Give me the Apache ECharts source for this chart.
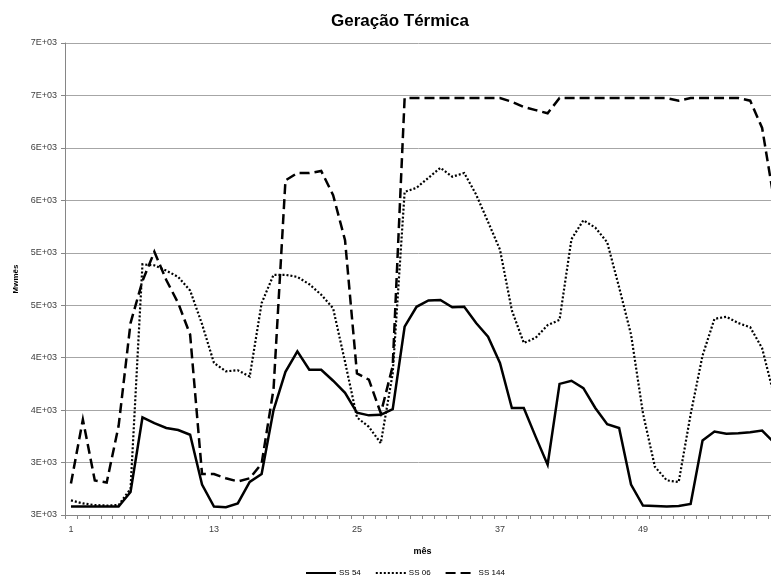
<!DOCTYPE html>
<html>
<head>
<meta charset="utf-8">
<script src="https://cdn.jsdelivr.net/npm/echarts@6/dist/echarts.min.js"></script>
<style>
  html, body { margin: 0; padding: 0; background: #ffffff; }
  #chart { width: 771px; height: 586px; }
</style>
</head>
<body>
<div id="chart"></div>
<script>
// Months of the study horizon
const months = ['1','2','3','4','5','6','7','8','9','10','11','12',
  '13','14','15','16','17','18','19','20','21','22','23','24',
  '25','26','27','28','29','30','31','32','33','34','35','36',
  '37','38','39','40','41','42','43','44','45','46','47','48',
  '49','50','51','52','53','54','55','56','57','58','59','60'];

// Thermal generation per scenario (Mwmês)
const ss54 = [2580, 2580, 2580, 2580, 2580, 2720, 3430, 3375, 3330, 3310, 3265, 2790,
  2580, 2575, 2610, 2815, 2890, 3500, 3865, 4060, 3885, 3885, 3780, 3665,
  3475, 3450, 3455, 3510, 4295, 4485, 4545, 4550, 4480, 4485, 4330, 4200,
  3950, 3520, 3520, 3245, 2980, 3750, 3780, 3710, 3520, 3365, 3330, 2790,
  2590, 2585, 2580, 2585, 2605, 3210, 3295, 3275, 3280, 3290, 3305, 3190];

const ss06 = [2640, 2610, 2595, 2590, 2595, 2750, 4890, 4880, 4830, 4770, 4640, 4320,
  3950, 3870, 3880, 3820, 4520, 4790, 4790, 4770, 4700, 4600, 4470, 3960,
  3430, 3340, 3185, 3850, 5580, 5620, 5715, 5810, 5725, 5760, 5555, 5295,
  5030, 4450, 4140, 4190, 4310, 4360, 5130, 5310, 5240, 5100, 4670, 4220,
  3470, 2960, 2830, 2815, 3460, 4020, 4370, 4390, 4330, 4290, 4090, 3640];

const ss144 = [2800, 3410, 2830, 2810, 3350, 4330, 4730, 5010, 4740, 4520, 4220, 2890,
  2890, 2850, 2820, 2850, 2990, 3700, 5690, 5760, 5760, 5780, 5550, 5120,
  3850, 3790, 3470, 3920, 6475, 6475, 6475, 6475, 6475, 6475, 6475, 6475,
  6475, 6440, 6390, 6360, 6330, 6475, 6475, 6475, 6475, 6475, 6475, 6475,
  6475, 6475, 6475, 6450, 6475, 6475, 6475, 6475, 6475, 6450, 6190, 5500];

// Value axis: 2500 .. 7000 in steps of 500, labelled in rounded scientific notation
const yMin = 2500;
const yMax = 7000;
const yStep = 500;
const yTickLabels = ['3E+03', '3E+03', '4E+03', '4E+03', '5E+03',
  '5E+03', '6E+03', '6E+03', '7E+03', '7E+03'];

const seriesNames = ['SS 54', 'SS 06', 'SS 144'];

const FONT = '"Liberation Sans", Arial, sans-serif';
const chart = echarts.init(document.getElementById('chart'), null, { renderer: 'canvas' });

function lineSeries(name, data, type, width) {
  return {
    name: name,
    type: 'line',
    data: data,
    symbol: 'none',
    showSymbol: false,
    smooth: false,
    animation: false,
    lineStyle: { color: '#000000', width: width, type: type, cap: 'butt', join: 'miter' },
    itemStyle: { color: '#000000' },
    emphasis: { disabled: true }
  };
}

chart.setOption({
  animation: false,
  backgroundColor: '#ffffff',
  title: {
    text: 'Geração Térmica',
    left: 395,
    top: 8,
    textAlign: 'center',
    textStyle: { fontFamily: FONT, fontSize: 17, fontWeight: 'bold', color: '#000000' }
  },
  legend: {
    bottom: 4,
    left: 300,
    itemWidth: 30,
    itemHeight: 8,
    itemGap: 14,
    data: seriesNames,
    itemStyle: { color: 'rgba(0,0,0,0)', borderWidth: 0, opacity: 0 },
    textStyle: { fontFamily: FONT, fontSize: 8, color: '#000000', padding: [0, 0, 0, -2] }
  },
  // the plot runs a little past the right edge of the canvas, so the last month is cut
  grid: { left: 65, top: 43, width: 715, height: 472, containLabel: false, outerBoundsMode: 'none' },
  xAxis: {
    type: 'category',
    data: months,
    boundaryGap: true,
    name: 'mês',
    nameLocation: 'middle',
    nameGap: 32,
    nameTextStyle: { fontFamily: FONT, fontSize: 9, fontWeight: 'bold', color: '#000000' },
    axisLine: { show: true, lineStyle: { color: '#868686', width: 1 } },
    axisTick: { show: true, interval: 0, length: 4, lineStyle: { color: '#868686' } },
    axisLabel: { interval: 11, margin: 10, fontFamily: FONT, fontSize: 9, color: '#404040' },
    splitLine: { show: false }
  },
  yAxis: {
    type: 'value',
    min: yMin,
    max: yMax,
    interval: yStep,
    name: 'Mwmês',
    nameLocation: 'middle',
    nameGap: 44,
    nameRotate: 90,
    nameTextStyle: { fontFamily: FONT, fontSize: 8, fontWeight: 'bold', color: '#000000' },
    axisLine: { show: true, lineStyle: { color: '#868686', width: 1 } },
    axisTick: { show: true, length: 4, lineStyle: { color: '#868686' } },
    axisLabel: {
      margin: 8,
      fontFamily: FONT,
      fontSize: 9,
      color: '#404040',
      formatter: function (v) {
        const i = Math.round((v - yMin) / yStep);
        return yTickLabels[i] !== undefined ? yTickLabels[i] : '';
      }
    },
    splitLine: { show: true, lineStyle: { color: '#a6a6a6', width: 1 } }
  },
  series: [
    lineSeries(seriesNames[0], ss54, 'solid', 2.5),
    lineSeries(seriesNames[1], ss06, [2, 2], 2.2),
    lineSeries(seriesNames[2], ss144, [10, 5], 2.5)
  ]
});
</script>
</body>
</html>
